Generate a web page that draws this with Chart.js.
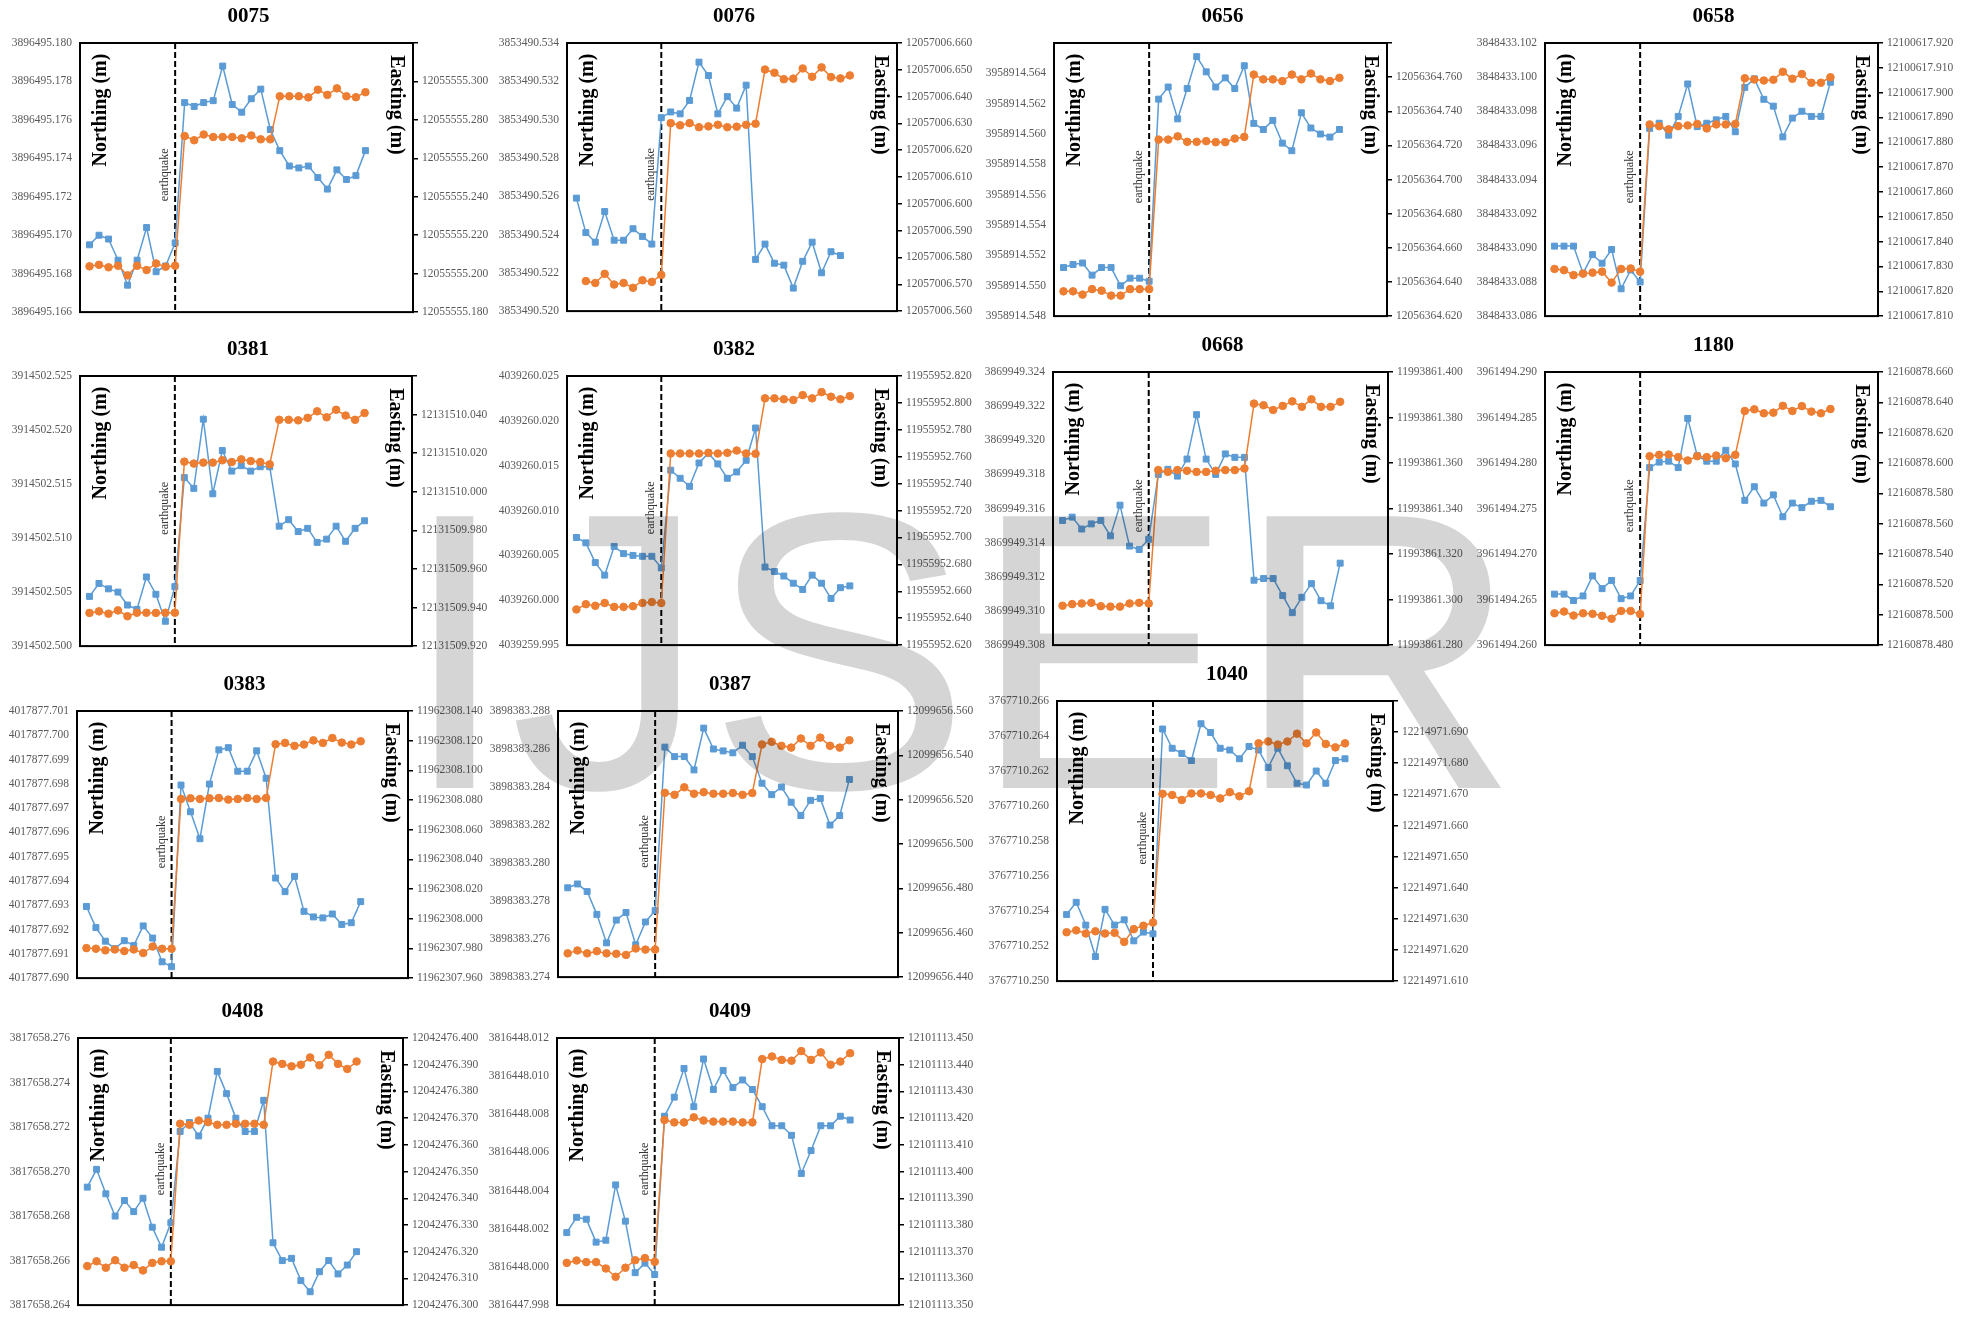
<!DOCTYPE html>
<html>
<head>
<meta charset="utf-8">
<script src="https://cdn.jsdelivr.net/npm/chart.js@4.4.1/dist/chart.umd.min.js"></script>
<style>
  html, body { margin: 0; padding: 0; background: #fff; }
  #page { position: relative; width: 1975px; height: 1320px; overflow: hidden; background: #fff; }
  #page canvas { position: absolute; }
  #wm {
    position: absolute; left: 400px; top: 454px; z-index: 10;
    font-family: "Liberation Sans", Arial, sans-serif; font-size: 395px; line-height: 1;
    color: #d5d5d5; mix-blend-mode: multiply; pointer-events: none; white-space: nowrap;
  }
</style>
</head>
<body>
<div id="page"><div id="wm">IJSER</div></div>
<script>
// GNSS station coordinates, daily solutions 1..30; the earthquake falls on day 10.
const stations = ['0075', '0076', '0656', '0658', '0381', '0382', '0668', '1180', '0383', '0387', '1040', '0408', '0409'];
const quakeDay = 10;

const north0075 = [3896495.1695, 3896495.1700, 3896495.1698, 3896495.1687, 3896495.1674, 3896495.1687, 3896495.1704, 3896495.1681, 3896495.1684, 3896495.1696, 3896495.1769, 3896495.1767, 3896495.1769, 3896495.1770, 3896495.1788, 3896495.1768, 3896495.1764, 3896495.1771, 3896495.1776, 3896495.1755, 3896495.1744, 3896495.1736, 3896495.1735, 3896495.1736, 3896495.1730, 3896495.1724, 3896495.1734, 3896495.1729, 3896495.1731, 3896495.1744];
const east0075 = [12055555.2038, 12055555.2046, 12055555.2033, 12055555.2041, 12055555.1991, 12055555.2041, 12055555.2019, 12055555.2053, 12055555.2036, 12055555.2041, 12055555.2716, 12055555.2694, 12055555.2724, 12055555.2711, 12055555.2711, 12055555.2711, 12055555.2704, 12055555.2719, 12055555.2699, 12055555.2699, 12055555.2923, 12055555.2923, 12055555.2923, 12055555.2917, 12055555.2957, 12055555.2930, 12055555.2964, 12055555.2923, 12055555.2918, 12055555.2944];

const north0076 = [3853490.5259, 3853490.5241, 3853490.5236, 3853490.5252, 3853490.5237, 3853490.5237, 3853490.5243, 3853490.5239, 3853490.5235, 3853490.5301, 3853490.5304, 3853490.5303, 3853490.5310, 3853490.5330, 3853490.5323, 3853490.5303, 3853490.5312, 3853490.5306, 3853490.5318, 3853490.5227, 3853490.5235, 3853490.5225, 3853490.5224, 3853490.5212, 3853490.5226, 3853490.5236, 3853490.5220, 3853490.5231, 3853490.5229, null];
const east0076 = [null, 12057006.5712, 12057006.5705, 12057006.5739, 12057006.5699, 12057006.5705, 12057006.5687, 12057006.5715, 12057006.5709, 12057006.5735, 12057006.6301, 12057006.6293, 12057006.6301, 12057006.6286, 12057006.6289, 12057006.6295, 12057006.6286, 12057006.6288, 12057006.6295, 12057006.6299, 12057006.6501, 12057006.6489, 12057006.6465, 12057006.6467, 12057006.6505, 12057006.6474, 12057006.6509, 12057006.6473, 12057006.6468, 12057006.6479];

const north0656 = [3958914.5512, 3958914.5514, 3958914.5515, 3958914.5507, 3958914.5512, 3958914.5512, 3958914.5500, 3958914.5505, 3958914.5505, 3958914.5503, 3958914.5623, 3958914.5631, 3958914.5610, 3958914.5630, 3958914.5651, 3958914.5641, 3958914.5631, 3958914.5637, 3958914.5630, 3958914.5645, 3958914.5607, 3958914.5603, 3958914.5609, 3958914.5594, 3958914.5589, 3958914.5614, 3958914.5604, 3958914.5600, 3958914.5598, 3958914.5603];
const east0656 = [12056364.6345, 12056364.6345, 12056364.6326, 12056364.6358, 12056364.6349, 12056364.6320, 12056364.6320, 12056364.6358, 12056364.6358, 12056364.6358, 12056364.7234, 12056364.7234, 12056364.7253, 12056364.7221, 12056364.7221, 12056364.7225, 12056364.7219, 12056364.7219, 12056364.7240, 12056364.7250, 12056364.7615, 12056364.7587, 12056364.7587, 12056364.7577, 12056364.7615, 12056364.7587, 12056364.7621, 12056364.7587, 12056364.7577, 12056364.7596];

const north0658 = [3848433.0901, 3848433.0901, 3848433.0901, 3848433.0885, 3848433.0896, 3848433.0891, 3848433.0899, 3848433.0876, 3848433.0887, 3848433.0880, 3848433.0970, 3848433.0973, 3848433.0966, 3848433.0977, 3848433.0996, 3848433.0971, 3848433.0973, 3848433.0975, 3848433.0977, 3848433.0968, 3848433.0994, 3848433.0999, 3848433.0987, 3848433.0983, 3848433.0965, 3848433.0976, 3848433.0980, 3848433.0977, 3848433.0977, 3848433.0997];
const east0658 = [12100617.8290, 12100617.8285, 12100617.8265, 12100617.8271, 12100617.8275, 12100617.8279, 12100617.8235, 12100617.8290, 12100617.8292, 12100617.8279, 12100617.8872, 12100617.8865, 12100617.8852, 12100617.8865, 12100617.8868, 12100617.8874, 12100617.8856, 12100617.8872, 12100617.8872, 12100617.8874, 12100617.9058, 12100617.9053, 12100617.9049, 12100617.9052, 12100617.9084, 12100617.9056, 12100617.9075, 12100617.9040, 12100617.9040, 12100617.9062];

const north0381 = [3914502.5046, 3914502.5058, 3914502.5053, 3914502.5050, 3914502.5038, 3914502.5034, 3914502.5064, 3914502.5048, 3914502.5023, 3914502.5055, 3914502.5156, 3914502.5146, 3914502.5210, 3914502.5141, 3914502.5181, 3914502.5162, 3914502.5167, 3914502.5162, 3914502.5166, 3914502.5166, 3914502.5111, 3914502.5117, 3914502.5106, 3914502.5109, 3914502.5096, 3914502.5099, 3914502.5111, 3914502.5097, 3914502.5109, 3914502.5116];
const east0381 = [12131509.9372, 12131509.9380, 12131509.9368, 12131509.9385, 12131509.9355, 12131509.9373, 12131509.9373, 12131509.9372, 12131509.9373, 12131509.9373, 12131510.0156, 12131510.0146, 12131510.0151, 12131510.0151, 12131510.0163, 12131510.0154, 12131510.0168, 12131510.0159, 12131510.0154, 12131510.0142, 12131510.0373, 12131510.0373, 12131510.0370, 12131510.0383, 12131510.0417, 12131510.0386, 12131510.0425, 12131510.0395, 12131510.0373, 12131510.0408];

const north0382 = [4039260.0070, 4039260.0064, 4039260.0042, 4039260.0028, 4039260.0060, 4039260.0052, 4039260.0050, 4039260.0049, 4039260.0049, 4039260.0036, 4039260.0145, 4039260.0136, 4039260.0127, 4039260.0153, 4039260.0164, 4039260.0152, 4039260.0136, 4039260.0143, 4039260.0156, 4039260.0192, 4039260.0037, 4039260.0032, 4039260.0027, 4039260.0019, 4039260.0012, 4039260.0028, 4039260.0019, 4039260.0002, 4039260.0014, 4039260.0016];
const east0382 = [11955952.6465, 11955952.6504, 11955952.6492, 11955952.6513, 11955952.6484, 11955952.6484, 11955952.6489, 11955952.6513, 11955952.6520, 11955952.6513, 11955952.7624, 11955952.7624, 11955952.7624, 11955952.7624, 11955952.7629, 11955952.7624, 11955952.7629, 11955952.7646, 11955952.7624, 11955952.7622, 11955952.8034, 11955952.8034, 11955952.8027, 11955952.8022, 11955952.8058, 11955952.8034, 11955952.8080, 11955952.8046, 11955952.8027, 11955952.8051];

const north0668 = [3869949.3153, 3869949.3155, 3869949.3148, 3869949.3151, 3869949.3153, 3869949.3144, 3869949.3162, 3869949.3138, 3869949.3136, 3869949.3142, 3869949.3180, 3869949.3183, 3869949.3179, 3869949.3189, 3869949.3215, 3869949.3189, 3869949.3180, 3869949.3192, 3869949.3190, 3869949.3190, 3869949.3118, 3869949.3119, 3869949.3119, 3869949.3109, 3869949.3099, 3869949.3108, 3869949.3116, 3869949.3106, 3869949.3103, 3869949.3128];
const east0668 = [11993861.2973, 11993861.2980, 11993861.2983, 11993861.2986, 11993861.2971, 11993861.2969, 11993861.2969, 11993861.2983, 11993861.2986, 11993861.2983, 11993861.3569, 11993861.3561, 11993861.3569, 11993861.3566, 11993861.3561, 11993861.3561, 11993861.3566, 11993861.3569, 11993861.3569, 11993861.3576, 11993861.3861, 11993861.3854, 11993861.3833, 11993861.3851, 11993861.3871, 11993861.3847, 11993861.3880, 11993861.3847, 11993861.3847, 11993861.3869];

const north1180 = [3961494.2656, 3961494.2656, 3961494.2649, 3961494.2654, 3961494.2676, 3961494.2662, 3961494.2671, 3961494.2651, 3961494.2654, 3961494.2671, 3961494.2795, 3961494.2801, 3961494.2802, 3961494.2795, 3961494.2849, 3961494.2808, 3961494.2802, 3961494.2802, 3961494.2814, 3961494.2799, 3961494.2759, 3961494.2774, 3961494.2756, 3961494.2765, 3961494.2741, 3961494.2756, 3961494.2751, 3961494.2758, 3961494.2759, 3961494.2752];
const east1180 = [12160878.5010, 12160878.5021, 12160878.4995, 12160878.5010, 12160878.5006, 12160878.4993, 12160878.4974, 12160878.5025, 12160878.5025, 12160878.5004, 12160878.6045, 12160878.6054, 12160878.6056, 12160878.6039, 12160878.6017, 12160878.6045, 12160878.6039, 12160878.6049, 12160878.6032, 12160878.6054, 12160878.6343, 12160878.6354, 12160878.6328, 12160878.6332, 12160878.6377, 12160878.6343, 12160878.6375, 12160878.6339, 12160878.6328, 12160878.6356];

const north0383 = [4017877.69295, 4017877.69208, 4017877.69152, 4017877.69121, 4017877.69154, 4017877.69134, 4017877.69215, 4017877.69165, 4017877.69067, 4017877.69047, 4017877.69795, 4017877.69685, 4017877.69574, 4017877.69799, 4017877.69940, 4017877.69949, 4017877.69852, 4017877.69852, 4017877.69936, 4017877.69823, 4017877.69412, 4017877.69356, 4017877.69419, 4017877.69275, 4017877.69252, 4017877.69248, 4017877.69264, 4017877.69221, 4017877.69228, 4017877.69315];
const east0383 = [11962307.9802, 11962307.9798, 11962307.9787, 11962307.9793, 11962307.9782, 11962307.9793, 11962307.9769, 11962307.9813, 11962307.9798, 11962307.9798, 11962308.0807, 11962308.0812, 11962308.0807, 11962308.0812, 11962308.0814, 11962308.0803, 11962308.0807, 11962308.0814, 11962308.0807, 11962308.0814, 11962308.1176, 11962308.1185, 11962308.1165, 11962308.1174, 11962308.1202, 11962308.1185, 11962308.1218, 11962308.1187, 11962308.1174, 11962308.1196];

const north0387 = [3898383.2787, 3898383.2789, 3898383.2785, 3898383.2773, 3898383.2758, 3898383.2770, 3898383.2774, 3898383.2757, 3898383.2769, 3898383.2775, 3898383.2861, 3898383.2856, 3898383.2856, 3898383.2849, 3898383.2871, 3898383.2860, 3898383.2859, 3898383.2858, 3898383.2862, 3898383.2856, 3898383.2842, 3898383.2836, 3898383.2840, 3898383.2832, 3898383.2825, 3898383.2833, 3898383.2834, 3898383.2820, 3898383.2825, 3898383.2844];
const east0387 = [12099656.4507, 12099656.4520, 12099656.4507, 12099656.4517, 12099656.4507, 12099656.4505, 12099656.4500, 12099656.4529, 12099656.4524, 12099656.4524, 12099656.5231, 12099656.5222, 12099656.5256, 12099656.5227, 12099656.5234, 12099656.5227, 12099656.5227, 12099656.5230, 12099656.5222, 12099656.5230, 12099656.5449, 12099656.5461, 12099656.5443, 12099656.5435, 12099656.5476, 12099656.5443, 12099656.5480, 12099656.5443, 12099656.5435, 12099656.5468];

const north1040 = [3767710.2538, 3767710.2545, 3767710.2532, 3767710.2514, 3767710.2541, 3767710.2532, 3767710.2535, 3767710.2523, 3767710.2528, 3767710.2527, 3767710.2644, 3767710.2633, 3767710.2630, 3767710.2626, 3767710.2647, 3767710.2642, 3767710.2633, 3767710.2632, 3767710.2627, 3767710.2634, 3767710.2632, 3767710.2622, 3767710.2633, 3767710.2623, 3767710.2613, 3767710.2612, 3767710.2620, 3767710.2613, 3767710.2626, 3767710.2627];
const east1040 = [12214971.6257, 12214971.6263, 12214971.6253, 12214971.6260, 12214971.6253, 12214971.6255, 12214971.6226, 12214971.6267, 12214971.6278, 12214971.6288, 12214971.6702, 12214971.6698, 12214971.6682, 12214971.6703, 12214971.6703, 12214971.6698, 12214971.6687, 12214971.6707, 12214971.6694, 12214971.6710, 12214971.6864, 12214971.6870, 12214971.6860, 12214971.6870, 12214971.6895, 12214971.6864, 12214971.6899, 12214971.6862, 12214971.6851, 12214971.6864];

const north0408 = [3817658.2693, 3817658.2701, 3817658.2690, 3817658.2680, 3817658.2687, 3817658.2682, 3817658.2688, 3817658.2675, 3817658.2666, 3817658.2677, 3817658.2718, 3817658.2722, 3817658.2716, 3817658.2724, 3817658.2745, 3817658.2735, 3817658.2724, 3817658.2718, 3817658.2718, 3817658.2732, 3817658.2668, 3817658.2660, 3817658.2661, 3817658.2651, 3817658.2646, 3817658.2655, 3817658.2660, 3817658.2654, 3817658.2658, 3817658.2664];
const east0408 = [12042476.3146, 12042476.3164, 12042476.3140, 12042476.3168, 12042476.3140, 12042476.3150, 12042476.3130, 12042476.3158, 12042476.3164, 12042476.3164, 12042476.3679, 12042476.3675, 12042476.3691, 12042476.3685, 12042476.3675, 12042476.3675, 12042476.3679, 12042476.3679, 12042476.3679, 12042476.3675, 12042476.3912, 12042476.3903, 12042476.3894, 12042476.3900, 12042476.3927, 12042476.3898, 12042476.3937, 12042476.3903, 12042476.3884, 12042476.3912];

const north0409 = [3816448.0018, 3816448.0026, 3816448.0025, 3816448.0013, 3816448.0014, 3816448.0043, 3816448.0024, 3816447.9997, 3816448.0002, 3816447.9996, 3816448.0079, 3816448.0089, 3816448.0104, 3816448.0084, 3816448.0109, 3816448.0093, 3816448.0103, 3816448.0094, 3816448.0098, 3816448.0093, 3816448.0084, 3816448.0074, 3816448.0074, 3816448.0069, 3816448.0049, 3816448.0061, 3816448.0074, 3816448.0074, 3816448.0079, 3816448.0077];
const east0409 = [12101113.3658, 12101113.3667, 12101113.3661, 12101113.3661, 12101113.3637, 12101113.3606, 12101113.3640, 12101113.3668, 12101113.3676, 12101113.3662, 12101113.4193, 12101113.4184, 12101113.4184, 12101113.4203, 12101113.4191, 12101113.4187, 12101113.4187, 12101113.4187, 12101113.4184, 12101113.4184, 12101113.4421, 12101113.4431, 12101113.4418, 12101113.4415, 12101113.4451, 12101113.4418, 12101113.4446, 12101113.4400, 12101113.4412, 12101113.4443];

const northSeries = [north0075, north0076, north0656, north0658, north0381, north0382, north0668, north1180, north0383, north0387, north1040, north0408, north0409];
const eastSeries = [east0075, east0076, east0656, east0658, east0381, east0382, east0668, east1180, east0383, east0387, east1040, east0408, east0409];

// Axis ranges (m) and tick steps for each station
const northMin = [3896495.166, 3853490.520, 3958914.548, 3848433.086, 3914502.500, 4039259.995, 3869949.308, 3961494.260, 4017877.690, 3898383.274, 3767710.250, 3817658.264, 3816447.998];
const northMax = [3896495.180, 3853490.534, 3958914.566, 3848433.102, 3914502.525, 4039260.025, 3869949.324, 3961494.290, 4017877.701, 3898383.288, 3767710.266, 3817658.276, 3816448.012];
const northStep = [0.002, 0.002, 0.002, 0.002, 0.005, 0.005, 0.002, 0.005, 0.001, 0.002, 0.002, 0.002, 0.002];
const eastMin = [12055555.180, 12057006.560, 12056364.620, 12100617.810, 12131509.920, 11955952.620, 11993861.280, 12160878.480, 11962307.960, 12099656.440, 12214971.610, 12042476.300, 12101113.350];
const eastMax = [12055555.320, 12057006.660, 12056364.780, 12100617.920, 12131510.060, 11955952.820, 11993861.400, 12160878.660, 11962308.140, 12099656.560, 12214971.700, 12042476.400, 12101113.450];
const eastStep = [0.020, 0.010, 0.020, 0.010, 0.020, 0.020, 0.020, 0.020, 0.020, 0.020, 0.010, 0.010, 0.010];
const northTopLabel = [true, true, false, true, true, true, true, true, true, true, true, true, true];
const eastTopLabel = [false, true, false, true, false, true, true, true, true, true, false, true, true];

// Plot frame of each panel on the page: left, top, right, bottom (px)
const frames = [
  [80, 43, 413, 319], [567, 43, 897, 318], [1054, 43, 1387, 323], [1545, 43, 1878, 323],
  [80, 376, 412, 653], [567, 376, 897, 652], [1053, 372, 1388, 652], [1545, 372, 1878, 652],
  [77, 711, 408, 985], [558, 711, 898, 984], [1057, 701, 1393, 988],
  [78, 1038, 403, 1312], [557, 1038, 899, 1312]
];

const SERIF = '"Liberation Serif", "Times New Roman", serif';
const BLUE = '#5B9BD5';
const ORANGE = '#ED7D31';
const LEFT_W = 80, RIGHT_W = 90, PAD_TOP = 40, PAD_BOTTOM = 8;

Chart.defaults.font.family = SERIF;

function toPoints(values) {
  const pts = [];
  values.forEach((v, i) => { if (v !== null) pts.push({ x: i + 1, y: v }); });
  return pts;
}

function tickList(min, max, step) {
  const n = Math.round((max - min) / step);
  const out = [];
  for (let i = 0; i <= n; i++) out.push({ value: min + i * step });
  return out;
}

function decor(name) {
  return {
    id: 'decor',
    beforeDatasetsDraw(chart) {
      const { ctx, chartArea: a } = chart;
      const qx = chart.scales.x.getPixelForValue(quakeDay);
      ctx.save();
      ctx.strokeStyle = '#000';
      ctx.lineWidth = 2;
      ctx.setLineDash([6, 3]);
      ctx.beginPath();
      ctx.moveTo(qx, a.top);
      ctx.lineTo(qx, a.bottom);
      ctx.stroke();
      ctx.setLineDash([]);
      ctx.fillStyle = '#000';
      ctx.textAlign = 'center';
      ctx.textBaseline = 'middle';
      ctx.font = 'bold 20px ' + SERIF;
      ctx.save();
      ctx.translate(a.left + 21, a.top + 67);
      ctx.rotate(-Math.PI / 2);
      ctx.fillText('Northing (m)', 0, 0);
      ctx.restore();
      ctx.save();
      ctx.translate(a.right - 17, a.top + 62);
      ctx.rotate(Math.PI / 2);
      ctx.fillText('Easting (m)', 0, 0);
      ctx.restore();
      ctx.font = '12px ' + SERIF;
      ctx.fillStyle = '#333';
      ctx.save();
      ctx.translate(qx - 10, a.top + 0.49 * (a.bottom - a.top));
      ctx.rotate(-Math.PI / 2);
      ctx.fillText('earthquake', 0, 0);
      ctx.restore();
      ctx.restore();
    },
    afterDraw(chart) {
      const { ctx, chartArea: a } = chart;
      ctx.save();
      ctx.strokeStyle = '#000';
      ctx.lineWidth = 2;
      ctx.strokeRect(a.left, a.top, a.right - a.left, a.bottom - a.top);
      ctx.fillStyle = '#000';
      ctx.font = 'bold 21px ' + SERIF;
      ctx.textAlign = 'center';
      ctx.textBaseline = 'middle';
      ctx.fillText(name, (a.left + a.right) / 2 + 2, a.top - 26);
      ctx.restore();
    }
  };
}

const page = document.getElementById('page');

stations.forEach((name, i) => {
  const [L, T, R, B] = frames[i];
  const canvas = document.createElement('canvas');
  const w = (R - L) + LEFT_W + RIGHT_W;
  const h = (B - T) + PAD_TOP + PAD_BOTTOM;
  canvas.width = w;
  canvas.height = h;
  canvas.style.left = (L - LEFT_W) + 'px';
  canvas.style.top = (T - PAD_TOP) + 'px';
  canvas.style.width = w + 'px';
  canvas.style.height = h + 'px';
  page.appendChild(canvas);

  const nMin = northMin[i], nMax = northMax[i], nStep = northStep[i];
  const eMin = eastMin[i], eMax = eastMax[i], eStep = eastStep[i];

  new Chart(canvas, {
    type: 'line',
    data: {
      datasets: [
        {
          label: 'Northing',
          data: toPoints(northSeries[i]),
          yAxisID: 'yN',
          borderColor: BLUE,
          backgroundColor: BLUE,
          borderWidth: 1.5,
          pointStyle: 'rect',
          pointRadius: 4.2,
          pointBorderWidth: 1,
          tension: 0,
          order: 2
        },
        {
          label: 'Easting',
          data: toPoints(eastSeries[i]),
          yAxisID: 'yE',
          borderColor: ORANGE,
          backgroundColor: ORANGE,
          borderWidth: 1.5,
          pointStyle: 'circle',
          pointRadius: 3.8,
          pointBorderWidth: 1,
          tension: 0,
          order: 1
        }
      ]
    },
    options: {
      responsive: false,
      animation: false,
      devicePixelRatio: 1,
      layout: { padding: { top: PAD_TOP, bottom: PAD_BOTTOM, left: 0, right: 0 } },
      plugins: { legend: { display: false }, tooltip: { enabled: false }, title: { display: false } },
      scales: {
        x: { type: 'linear', min: 0, max: 35, display: false },
        yN: {
          type: 'linear',
          position: 'left',
          min: nMin,
          max: nMax,
          afterFit(s) { s.width = LEFT_W; },
          afterBuildTicks(s) { s.ticks = tickList(nMin, nMax, nStep); },
          grid: { display: false, drawTicks: false },
          border: { display: false },
          ticks: {
            autoSkip: false,
            padding: 8,
            color: '#595959',
            font: { size: 11.5, family: SERIF },
            callback(v) {
              if (!northTopLabel[i] && Math.abs(v - nMax) < nStep / 2) return '';
              return v.toFixed(3);
            }
          }
        },
        yE: {
          type: 'linear',
          position: 'right',
          min: eMin,
          max: eMax,
          afterFit(s) { s.width = RIGHT_W; },
          afterBuildTicks(s) { s.ticks = tickList(eMin, eMax, eStep); },
          grid: { display: true, drawOnChartArea: false, drawTicks: true, tickLength: 5, color: '#000', lineWidth: 1.5 },
          border: { display: true, color: '#000', width: 2 },
          ticks: {
            autoSkip: false,
            padding: 4,
            color: '#595959',
            font: { size: 11.5, family: SERIF },
            callback(v) {
              if (!eastTopLabel[i] && Math.abs(v - eMax) < eStep / 2) return '';
              return v.toFixed(3);
            }
          }
        }
      }
    },
    plugins: [decor(name)]
  });
});
</script>
</body>
</html>
